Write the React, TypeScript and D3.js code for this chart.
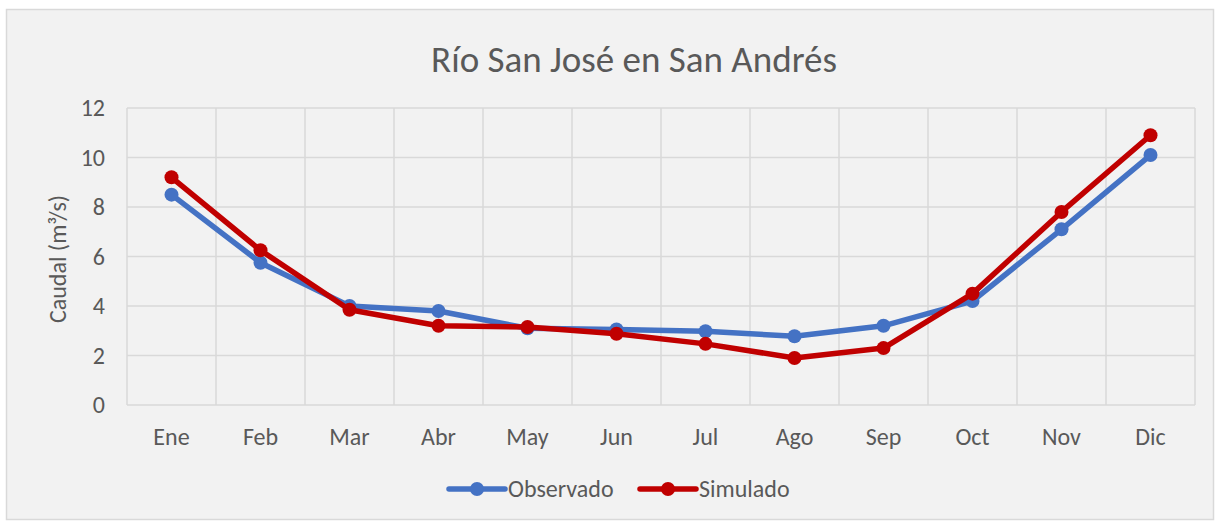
import React from "react";
import * as d3 from "d3";

const months = ["Ene", "Feb", "Mar", "Abr", "May", "Jun", "Jul", "Ago", "Sep", "Oct", "Nov", "Dic"];
const observado = [8.5, 5.75, 4.0, 3.8, 3.1, 3.05, 2.98, 2.78, 3.2, 4.2, 7.1, 10.1];
const simulado = [9.2, 6.25, 3.85, 3.2, 3.15, 2.88, 2.47, 1.9, 2.3, 4.5, 7.8, 10.9];
const yTicks = [0, 2, 4, 6, 8, 10, 12];

const W = 1219, H = 525;
const left = 127, right = 1195, top = 108, bottom = 405;
const font = "Calibri, Carlito, 'Open Sans', sans-serif";
const textColor = "#595959";
const grid = "#d9d9d9";

export default function App() {
  const x = d3.scaleBand().domain(months).range([left, right]);
  const y = d3.scaleLinear().domain([0, 12]).range([bottom, top]);
  const line = d3.line<number>().x((_, i) => x(months[i])! + x.bandwidth() / 2).y((d) => y(d));
  const series = [
    { name: "Observado", data: observado, color: "#4472c4", lx: 449 },
    { name: "Simulado", data: simulado, color: "#c00000", lx: 640 },
  ];
  return (
    <svg width={W} height={H} style={{ position: "absolute", left: 0, top: 0 }}>
      <rect x={6.5} y={9.5} width={1207} height={510} fill="#f2f2f2" stroke={grid} strokeWidth={1.5} />
      <text x={634} y={72} textAnchor="middle" fontFamily={font} fontSize={37} fill={textColor}>
        Río San José en San Andrés
      </text>
      {yTicks.map((t) => (
        <g key={t}>
          <line x1={left} x2={right} y1={y(t)} y2={y(t)} stroke={grid} strokeWidth={1.5} />
          <text x={105} y={y(t) + 8} textAnchor="end" fontFamily={font} fontSize={24} fill={textColor}>
            {t}
          </text>
        </g>
      ))}
      {months.map((m, i) => (
        <g key={m}>
          <line x1={x(m)!} x2={x(m)!} y1={top} y2={bottom} stroke={grid} strokeWidth={1.5} />
          <text x={x(m)! + x.bandwidth() / 2} y={445} textAnchor="middle" fontFamily={font} fontSize={24} fill={textColor}>
            {m}
          </text>
        </g>
      ))}
      <line x1={right} x2={right} y1={top} y2={bottom} stroke={grid} strokeWidth={1.5} />
      <text
        transform={`translate(66,${259}) rotate(-90)`}
        textAnchor="middle"
        fontFamily={font}
        fontSize={24}
        fill={textColor}
      >
        Caudal (m³/s)
      </text>
      {series.map((s) => (
        <g key={s.name}>
          <path d={line(s.data)!} fill="none" stroke={s.color} strokeWidth={5.5} strokeLinejoin="round" strokeLinecap="round" />
          {s.data.map((d, i) => (
            <circle key={i} cx={x(months[i])! + x.bandwidth() / 2} cy={y(d)} r={7} fill={s.color} />
          ))}
        </g>
      ))}
      {series.map((s) => (
        <g key={s.name + "-leg"}>
          <line x1={s.lx} x2={s.lx + 56} y1={489} y2={489} stroke={s.color} strokeWidth={5.5} strokeLinecap="round" />
          <circle cx={s.lx + 28} cy={489} r={7} fill={s.color} />
          <text x={s.lx + 59} y={497} fontFamily={font} fontSize={24} fill={textColor}>
            {s.name}
          </text>
        </g>
      ))}
    </svg>
  );
}
